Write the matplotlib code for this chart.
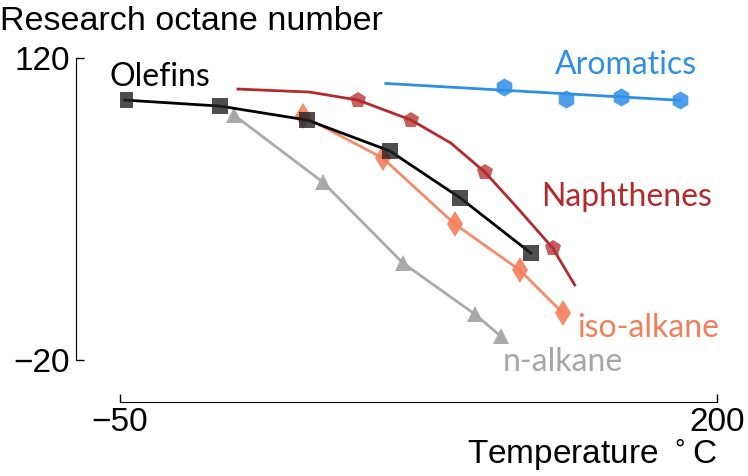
import matplotlib.pyplot as plt

plt.rcParams['font.family'] = ['Liberation Sans', 'DejaVu Sans']

# data
olefin_t = [-48, -8, 28.5, 63, 92.5, 122]
olefin_ron = [100.5, 97.7, 91.2, 76.9, 55.1, 29.6]

naph_t = [-0.6, 29.5, 49.6, 71.8, 88.5, 102.7, 115.3, 131.2, 140.4]
naph_ron = [105.6, 104.2, 100.5, 91.3, 80.6, 67.2, 51.9, 31.9, 14.8]
naph_marks = [2, 3, 5, 7]

arom_t = [61.3, 110.7, 136.6, 160.0, 184.3]
arom_ron = [108.4, 106.6, 101.0, 101.9, 100.5]
arom_marks = [1, 2, 3, 4]
arom_fit = [108.2, 100.4]

iso_t = [26.6, 60.0, 90.2, 117.4, 135.4]
iso_ron = [93.1, 73.6, 43.0, 21.7, 1.8]

n_t = [-2.3, 34.9, 68.4, 98.5, 109.4]
n_ron = [93.6, 62.5, 25.0, 1.3, -8.9]

xticks = [-50, 200]
yticks = [-20, 120]

fig = plt.figure(figsize=(7.48, 4.76), dpi=100)
ax = fig.add_axes([120/748, (476-360)/476, (717-120)/748, (360-58)/476])

# lines
ax.plot(n_t, n_ron, color='#a6a6a6', lw=2, marker='^', ms=12, mew=0,
        mfc='#a6a6a6', alpha=0.95, zorder=2)
ax.plot(iso_t, iso_ron, color='#f47e5a', lw=2, marker='d', ms=13, mew=0,
        alpha=0.9, zorder=3)
ax.plot(naph_t, naph_ron, color='#b42a2a', lw=2, zorder=3)
ax.plot([naph_t[i] for i in naph_marks], [naph_ron[i] for i in naph_marks],
        ls='none', marker='p', ms=12, mew=0, color='#b42a2a', alpha=0.75, zorder=4)
ax.plot([arom_t[0], arom_t[-1]], arom_fit, color='#2f8ee8', lw=2, zorder=3)
ax.plot([arom_t[i] for i in arom_marks], [arom_ron[i] for i in arom_marks],
        ls='none', marker='h', ms=13, mew=0, color='#2f8ee8', alpha=0.85, zorder=4)
ax.plot(olefin_t, olefin_ron, color='black', lw=2, zorder=5)
ax.plot(olefin_t, olefin_ron, ls='none', marker='s', ms=12, mew=0,
        color='#222222', alpha=0.8, zorder=6)

# series labels
lab = dict(family=['Lato', 'DejaVu Sans'], fontsize=23)
ax.text(-54.2, 111.2, 'Olefins', color='black', va='center', ha='left', **lab)
ax.text(161.7, 116.8, 'Aromatics', color='#2f8ee8', va='center', ha='center', **lab)
ax.text(126.2, 55.6, 'Naphthenes', color='#b42a2a', va='center', ha='left', **lab)
ax.text(141.6, -5.2, 'iso-alkane', color='#f47e5a', va='center', ha='left', **lab)
ax.text(110.3, -20.9, 'n-alkane', color='#a6a6a6', va='center', ha='left', **lab)

ax.set_xlim(-50, 200)
ax.set_ylim(-20, 120)
ax.set_xticks(xticks)
ax.set_yticks(yticks)
ax.set_xticklabels(['\u221250', '200'])
ax.set_yticklabels(['\u221220', '120'])
for s in ['top', 'right']:
    ax.spines[s].set_visible(False)
ax.spines['left'].set_position(('outward', 32))
ax.spines['bottom'].set_position(('outward', 30))
ax.spines['left'].set_bounds(-20, 120)
ax.spines['bottom'].set_bounds(-50, 200)
ax.tick_params(direction='in', length=6, width=1, labelsize=24, pad=4)
ax.patch.set_visible(False)

fig.text(0.0, 0.955, 'Research octane number', fontsize=24.5, va='center', ha='left')
fig.text(717/748, 1 - 455/476, 'Temperature $^\\circ$C', fontsize=24, va='center', ha='right')

fig.savefig('out.png', dpi=100)
